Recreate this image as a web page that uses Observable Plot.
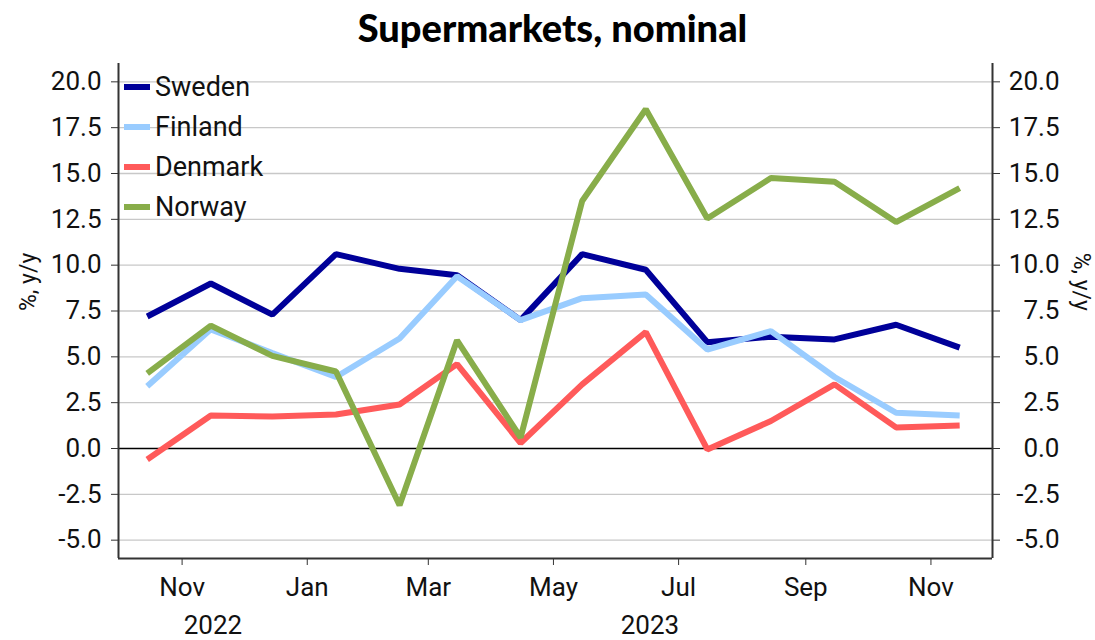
<!DOCTYPE html>
<html>
<head>
<meta charset="utf-8">
<script src="https://cdn.jsdelivr.net/npm/d3@7"></script>
<script src="https://cdn.jsdelivr.net/npm/@observablehq/plot@0.6"></script>
<style>
  html, body { margin: 0; padding: 0; background: #fff; }
  #wrap { position: relative; width: 1095px; height: 640px; font-family: Roboto, "Noto Sans", sans-serif; }
  #title { height: 50px; line-height: 54px; text-align: center; font-family: Lato, sans-serif; font-weight: 900; font-size: 38px; color: #000; padding-left: 10px; }
  #legend { position: absolute; left: 124px; top: 68px; }
  .item { position: relative; height: 40px; line-height: 38px; font-size: 27px; color: #111; padding-left: 31px; }
  .sw { position: absolute; left: 0; top: 16px; width: 26px; height: 6px; }
</style>
</head>
<body>
<div id="wrap">
  <div id="title">Supermarkets, nominal</div>
  <div id="chart"></div>
  <div id="legend"></div>
</div>
<script>
const dates = ["2022-10-15","2022-11-15","2022-12-15","2023-01-15","2023-02-15","2023-03-15","2023-04-15",
               "2023-05-15","2023-06-15","2023-07-15","2023-08-15","2023-09-15","2023-10-15","2023-11-15"];
const countries = ["Sweden", "Finland", "Denmark", "Norway"];
const colors = ["#000099", "#99ccff", "#ff5a5a", "#88ad4a"];
const sweden  = [7.2, 9.0, 7.3, 10.6, 9.8, 9.45, 7.0, 10.6, 9.75, 5.8, 6.1, 5.95, 6.75, 5.5];
const finland = [3.4, 6.5, 5.2, 3.9, 6.0, 9.4, 7.0, 8.2, 8.4, 5.4, 6.4, 3.9, 1.95, 1.8];
const denmark = [-0.6, 1.8, 1.75, 1.85, 2.4, 4.6, 0.3, 3.5, 6.35, -0.05, 1.5, 3.5, 1.15, 1.25];
const norway  = [4.1, 6.7, 5.05, 4.2, -3.1, 5.9, 0.6, 13.5, 18.5, 12.55, 14.75, 14.55, 12.35, 14.2];
const yTicks = [-5, -2.5, 0, 2.5, 5, 7.5, 10, 12.5, 15, 17.5, 20];
const monthTicks = ["2022-11-01","2023-01-01","2023-03-01","2023-05-01","2023-07-01","2023-09-01","2023-11-01"];
const years = ["2022", "2023"];
const xDomain = ["2022-10-01", "2023-12-01"];
const yDomain = [-6, 21];

const series = [sweden, finland, denmark, norway];
const rows = [];
countries.forEach((c, i) => series[i].forEach((v, j) => rows.push({country: c, date: new Date(dates[j]), value: v})));

const x0 = new Date(xDomain[0]), x1 = new Date(xDomain[1]);
const yearLabels = years.map(y => {
  const a = new Date(Math.max(+x0, +new Date(`${y}-01-01`)));
  const b = new Date(Math.min(+x1, +new Date(`${+y + 1}-01-01`)));
  return {date: new Date((+a + +b) / 2), text: y};
});

const fmt = v => d3.format(".1f")(v).replace("\u2212", "-");

const chart = Plot.plot({
  width: 1095,
  height: 590,
  marginLeft: 118,
  marginRight: 103,
  marginTop: 13,
  marginBottom: 82,
  style: {fontFamily: "Roboto, 'Noto Sans', sans-serif", fontSize: "26px", color: "#111", background: "#fff"},
  x: {type: "utc", domain: [x0, x1]},
  y: {domain: yDomain},
  color: {domain: countries, range: colors},
  marks: [
    Plot.ruleY(yTicks.filter(d => d !== 0), {stroke: "#c8c8c8", strokeWidth: 1.3}),
    Plot.ruleY([0], {stroke: "#000", strokeWidth: 1.5}),
    Plot.ruleX([x0, x1], {stroke: "#333", strokeWidth: 2}),
    Plot.ruleY([yDomain[0]], {stroke: "#333", strokeWidth: 2}),
    Plot.axisY({anchor: "left", ticks: yTicks, tickFormat: fmt, tickSize: 7, tickPadding: 10, label: null, stroke: "#333"}),
    Plot.axisY({anchor: "right", ticks: yTicks, tickFormat: fmt, tickSize: 7, tickPadding: 60, textAnchor: "end", label: null, stroke: "#333"}),
    Plot.axisX({ticks: monthTicks.map(d => new Date(d)), tickFormat: d3.utcFormat("%b"), tickSize: 7, tickPadding: 12, label: null, stroke: "#333"}),
    Plot.text(yearLabels, {x: "date", text: "text", frameAnchor: "bottom", dy: 75, fontSize: 26}),
    Plot.text(["%, y/y"], {text: d => d, frameAnchor: "left", rotate: -90, dx: -90, fontSize: 23}),
    Plot.text(["%, y/y"], {text: d => d, frameAnchor: "right", rotate: 90, dx: 89, fontSize: 23}),
    Plot.line(rows, {x: "date", y: "value", z: "country", stroke: "country", strokeWidth: 6, strokeLinejoin: "miter", strokeLinecap: "butt"})
  ]
});
document.getElementById("chart").appendChild(chart);

const legend = document.getElementById("legend");
countries.forEach((c, i) => {
  const div = document.createElement("div");
  div.className = "item";
  div.innerHTML = `<span class="sw" style="background:${colors[i]}"></span>${c}`;
  legend.appendChild(div);
});
</script>
</body>
</html>
